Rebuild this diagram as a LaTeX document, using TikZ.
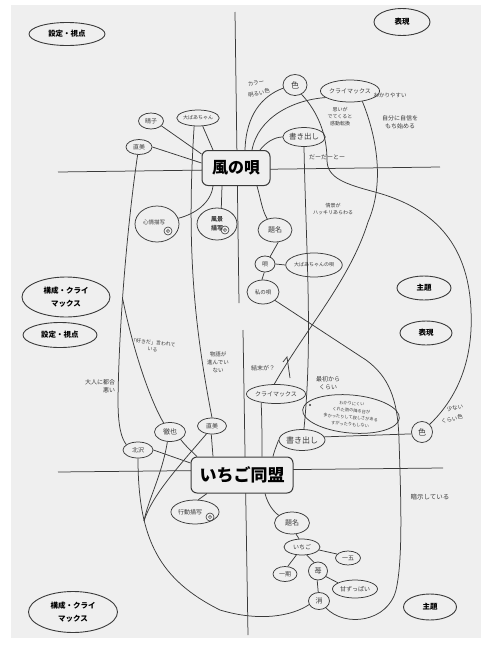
\documentclass[tikz,border=0pt]{standalone}
\usepackage{fontspec}
\usetikzlibrary{shapes.geometric}
\newfontfamily\jp{Noto Sans CJK JP}
\definecolor{inkc}{HTML}{3A3A3A}
\definecolor{bgc}{HTML}{EFEFEF}
\newcommand{\jfs}[2]{\fontsize{#1}{#2}\selectfont}
\begin{document}
\begin{tikzpicture}[x=1pt,y=-1pt,
  ink/.style={draw=inkc, line width=0.75pt},
  sz/.style 2 args={minimum width=#1pt, minimum height=#2pt},
  hw/.style={ellipse, draw=inkc, line width=0.75pt, inner sep=0pt, text=inkc, align=center, font=\jp\jfs{6}{7}},
  lab/.style={ellipse, draw=inkc, line width=0.9pt, inner sep=0pt, align=center, font=\jp\bfseries\jfs{7.5}{13}},
  ttl/.style={rectangle, rounded corners=6pt, draw=inkc, line width=1pt, fill=bgc, inner sep=0pt},
  note/.style={inner sep=0pt, align=center, text=inkc, font=\jp\jfs{5.5}{7}},
  mini/.style={circle, draw=inkc, line width=0.6pt, minimum size=8pt, inner sep=0pt},
]
\useasboundingbox (0,0) rectangle (481,646);
\fill[white] (0,0) rectangle (481,646);
\fill[bgc] (11,5) rectangle (481,638);

% axes
\draw[ink] (235,12) -- (239,303);
\draw[ink] (58,172) -- (440,167);
\draw[ink] (243,330) -- (248,635);
\draw[ink] (58,472) -- (443,468);

% printed category labels
\node[lab, sz={76}{23}] (setL1) at (67,34) {設定・視点};
\node[lab, sz={56}{27}] (hyoR1) at (402,22) {表現};
\node[lab, sz={88}{40}] (koseiL1) at (66,297) {構成・クライ\\マックス};
\node[lab, sz={74}{25}] (setL2) at (60,335) {設定・視点};
\node[lab, sz={54}{24}] (shuR1) at (424,288) {主題};
\node[lab, sz={52}{24}] (hyoR2) at (426,333) {表現};
\node[lab, sz={89}{41}] (koseiL2) at (73,612) {構成・クライ\\マックス};
\node[lab, sz={53}{26}] (shuR2) at (430,607) {主題};

% titles
\node[ttl, minimum width=68pt, minimum height=35pt, font=\jp\bfseries\jfs{16}{16}] (kaze) at (236,168) {風の唄};
\node[ttl, minimum width=102pt, minimum height=36pt, font=\jp\bfseries\jfs{17}{17}] (ichigoD) at (242,475) {いちご同盟};

% upper nodes
\node[hw, sz={25}{16}] (haruko) at (151,121) {晴子};
\node[hw, sz={38}{16}, font=\jp\jfs{5}{6}] (oba) at (198,118) {大ばあちゃん};
\node[hw, sz={26}{15}] (naomiU) at (139,147) {直美};
\node[hw, sz={44}{36}, font=\jp\jfs{5.5}{6}] (shinjo) at (157,224) {\raisebox{4pt}{心情描写}\hspace{6pt}};
\node[mini] (c1) at (168,231) {};
\draw[inkc, line width=0.5pt] (c1) circle (1.6pt);
\node[hw, sz={40}{32}, font=\jp\bfseries\jfs{6}{8.5}] (fukei) at (217,224) {風景\hspace{6pt}\\描写\hspace{12pt}};
\node[mini] (c2) at (225,230) {};
\draw[inkc, line width=0.5pt] (c2) circle (1.6pt);
\node[hw, sz={24}{21}, font=\jp\jfs{8}{8}] (iroU) at (295,85) {色};
\node[hw, sz={54}{22}] (climaxU) at (350,91) {クライマックス};
\node[hw, sz={40}{19}, font=\jp\jfs{7.5}{8}] (kakiU) at (304,137) {書き出し};
\node[hw, sz={34}{24}, font=\jp\jfs{7}{8}] (daimeiU) at (275,230) {題名};
\node[hw, sz={20}{16}] (uta) at (265,264) {唄};
\node[hw, sz={52}{24}, font=\jp\jfs{5}{6}] (obauta) at (314,265) {大ばあちゃんの唄};
\node[hw, sz={32}{24}, font=\jp\jfs{5.5}{6}] (watashi) at (263,292) {私の唄};

% lower nodes
\node[hw, sz={30}{16}] (kita) at (138,450) {北沢};
\node[hw, sz={31}{19}, font=\jp\jfs{7}{8}] (tetsu) at (170,432) {徹也};
\node[hw, sz={29}{16}] (naomiL) at (212,426) {直美};
\node[hw, sz={47}{24}, font=\jp\jfs{6}{7}] (kodo) at (195,512) {行動描写\hspace{10pt}};
\node[mini] (c3) at (210,517) {};
\draw[inkc, line width=0.5pt] (c3) circle (1.6pt);
\node[hw, sz={57}{19}] (climaxL) at (276,394) {クライマックス};
\node[hw, sz={46}{21}, font=\jp\jfs{8}{8}] (kakiL) at (302,440) {書き出し};
\node[hw, sz={21}{21}, font=\jp\jfs{8}{8}] (iroL) at (422,432) {色};
\node[hw, sz={35}{22}, font=\jp\jfs{7}{8}] (daimeiL) at (292,523) {題名};
\node[hw, sz={36}{16}] (ichigo) at (302,547) {いちご};
\node[hw, sz={25}{14}] (ichigoNum) at (348,558) {一五};
\node[hw, sz={24}{15}] (ichigoKi) at (285,574) {一期};
\node[hw, sz={19}{18}, font=\jp\jfs{7}{8}] (strawberry) at (318,571) {苺};
\node[hw, sz={45}{18}] (amazuppai) at (355,589) {甘ずっぱい};
\node[hw, sz={21}{17}, font=\jp\jfs{7}{8}] (sake) at (319,601) {消};
\node[hw, sz={97}{38}, rotate=-5, font=\jp\jfs{4.2}{7}] (memo) at (351,414) {わかりにくい\\くれた雨の降る日が\\多かったりして寂しさがある\\すがったりもしない};

% notes
\node[note, rotate=12] (n1a) at (256,83) {カラー};
\node[note, rotate=12] (n1b) at (259,93) {明るい色};
\node[note, font=\jp\jfs{5}{7}] (n2) at (340,117) {思いが\\でてくると\\感動転換};
\node[note, font=\jp\jfs{5.5}{7}] (n3) at (390,95) {わかりやすい};
\node[note, font=\jp\jfs{6}{8}] (n4) at (400,122) {自分に自信を\\もち始める};
\node[note, font=\jp\jfs{6}{7}] (n5) at (327,157) {だーだーとー};
\node[note, font=\jp\jfs{5}{7}] (n6) at (333,209) {情景が\\ハッキリあらわる};
\node[note, font=\jp\jfs{6}{7}] (n7) at (263,368) {結末が？};
\node[note, font=\jp\jfs{6}{8}] (n8) at (328,383) {最初から\\くらい};
\node[note, rotate=12, font=\jp\jfs{5.5}{7}] (n9a) at (455,408) {少ない};
\node[note, rotate=12, font=\jp\jfs{5.5}{7}] (n9b) at (452,419) {くらい色};
\node[note, font=\jp\jfs{6.5}{7}] (n10) at (430,497) {暗示している};
\node[note, align=right, font=\jp\jfs{6}{8}] (n11) at (100,386) {大人に都合\\悪い};
\node[note, rotate=-6, font=\jp\jfs{5}{7}] (n12) at (153,346) {「好きだ」言われて\\いる};
\node[note, font=\jp\jfs{5.5}{8}] (n13) at (218,362) {物語が\\進んでい\\ない};

% connectors, upper left
\draw[ink] (haruko.-25) -- ([yshift=14pt]kaze.west);
\draw[ink] (naomiU.east) -- ([yshift=5pt]kaze.west);
\draw[ink] (oba.-60) -- ([xshift=-23pt]kaze.north);
\draw[ink] (oba.-115) .. controls (186,250) and (195,330) .. (naomiL.north);
\draw[ink] (naomiU.-100) .. controls (128,220) and (119,320) .. (118,400) .. controls (118,425) and (121,438) .. (kita.155);
\coordinate (br1) at (122.5,298);
\draw[ink] (br1) .. controls (133,350) and (150,400) .. (tetsu.125);
\draw[ink] ([xshift=-23pt]kaze.south) .. controls (211,203) and (195,214) .. (shinjo.15);
\draw[ink] ([xshift=-14pt]kaze.south) -- (fukei.75);

% upper right
\draw[ink] ([xshift=9pt]kaze.north) .. controls (246,115) and (262,96) .. (iroU.195);
\draw[ink] ([xshift=16pt]kaze.north) .. controls (258,118) and (292,100) .. (climaxU.195);
\draw[ink] ([xshift=24pt]kaze.north) .. controls (266,142) and (275,137) .. (kakiU.west);
\draw[ink] ([xshift=21pt]kaze.south) .. controls (261,200) and (262,210) .. (daimeiU.125);
\draw[ink] (daimeiU.-75) -- (uta.55);
\draw[ink] (uta.east) -- (obauta.west);
\draw[ink] (uta.-95) -- (watashi.95);
\draw[ink] (iroU.-55) .. controls (318,112) and (327,135) .. (327,160) .. controls (327,178) and (345,184) .. (375,192) .. controls (430,207) and (468,240) .. (471,310) .. controls (474,370) and (450,405) .. (iroL.45);
\draw[ink] (climaxU.-40) .. controls (378,140) and (384,185) .. (368,222) .. controls (350,280) and (305,330) .. (climaxL.100);
\draw[ink] (kakiU.south) .. controls (306,250) and (313,340) .. (kakiL.80);

% lower right
\coordinate (bend) at (366,360);
\draw[ink] (watashi.-35) -- (bend) .. controls (388,376) and (398,398) .. (399,440) .. controls (401,500) and (403,560) .. (396,590) .. controls (388,622) and (345,628) .. (sake.-45);
\draw[ink] (iroL.190) -- (kakiL.8);
\draw[ink] (climaxL.-150) .. controls (262,420) and (262,440) .. ([xshift=20pt]ichigoD.north);
\draw[ink] (kakiL.west) .. controls (276,447) and (274,452) .. ([xshift=31pt]ichigoD.north);
\draw[ink] (290,378) .. controls (289,368) .. (287,357) -- (283,362);
\fill[inkc] (310,405) circle (1.2pt);

% lower left
\draw[ink] (kita.east) -- ([yshift=12pt]ichigoD.west);
\draw[ink] (tetsu.-35) .. controls (186,446) .. ([xshift=-45pt]ichigoD.north);
\draw[ink] (naomiL.-95) -- ([xshift=-29pt]ichigoD.north);
\coordinate (j1) at (144,521);
\draw[ink] (kita.south) .. controls (138,540) and (160,580) .. (220,610) .. controls (260,622) and (292,616) .. (sake.200);
\draw[ink] (tetsu.-105) .. controls (162,475) and (148,500) .. (j1);
\draw[ink] (naomiL.-125) .. controls (180,465) and (152,495) .. (j1);
\draw[ink] ([xshift=-35pt]ichigoD.south) -- (kodo.75);
\draw[ink] ([xshift=23pt]ichigoD.south) .. controls (268,505) and (274,512) .. (daimeiL.150);
\draw[ink] (daimeiL.-70) -- (ichigo.110);
\draw[ink] (ichigo.-10) -- (ichigoNum.160);
\draw[ink] (ichigo.-125) -- (ichigoKi.70);
\draw[ink] (ichigo.-60) -- (strawberry.115);
\draw[ink] (strawberry.-35) -- (amazuppai.160);
\draw[ink] (strawberry.-95) -- (sake.95);
\end{tikzpicture}
\end{document}
